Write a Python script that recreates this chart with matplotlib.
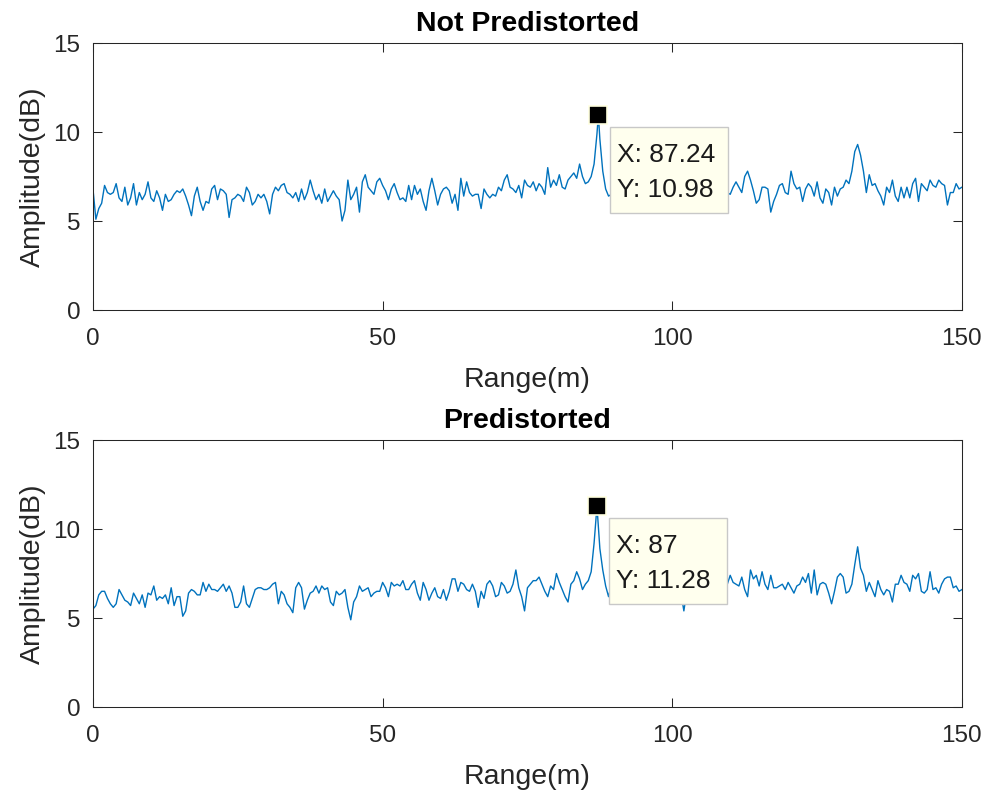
import numpy as np
import matplotlib
matplotlib.use("Agg")
import matplotlib.pyplot as plt
from matplotlib.patches import Rectangle
from matplotlib.transforms import ScaledTranslation

plt.rcParams["font.family"] = ["Liberation Sans", "DejaVu Sans"]

# range grid (m), 0.5 m steps
range_m = np.arange(0, 150.5, 0.5)

# amplitude (dB), 10 samples per 5 m
amp_not_pd = [
    6.8, 5.1, 5.7, 6.0, 7.0, 6.6, 6.5, 6.6, 7.1, 6.3,
    6.1, 6.9, 5.9, 6.3, 7.1, 5.9, 6.6, 6.2, 6.5, 7.2,
    6.3, 6.1, 6.7, 6.3, 5.6, 6.5, 6.1, 6.2, 6.5, 6.7,
    6.6, 6.8, 6.4, 5.9, 5.3, 6.4, 6.9, 6.1, 5.6, 6.1,
    6.0, 6.8, 7.0, 6.2, 6.8, 6.7, 6.5, 5.2, 6.2, 6.3,
    6.5, 6.4, 6.1, 6.9, 6.6, 5.9, 6.1, 6.5, 6.3, 6.5,
    6.1, 5.4, 6.5, 6.9, 6.7, 7.0, 7.1, 6.6, 6.5, 6.3,
    6.6, 6.1, 6.8, 6.2, 6.6, 7.3, 6.7, 6.2, 6.5, 6.0,
    6.8, 6.1, 6.4, 6.7, 6.4, 6.2, 5.0, 5.6, 7.3, 6.2,
    6.5, 6.9, 5.5, 7.2, 7.6, 6.9, 6.7, 6.5, 7.2, 7.4,
    7.0, 6.7, 6.2, 6.8, 7.1, 6.6, 6.2, 6.3, 6.1, 7.0,
    6.2, 7.0, 6.5, 6.8, 6.1, 5.6, 6.7, 7.4, 6.7, 5.9,
    6.5, 6.8, 6.9, 6.7, 6.0, 6.5, 5.6, 7.4, 6.4, 7.2,
    6.6, 6.4, 6.5, 6.5, 5.7, 6.8, 6.5, 6.3, 6.5, 6.4,
    6.9, 6.7, 7.3, 7.6, 6.9, 6.8, 6.6, 7.0, 6.3, 7.3,
    7.0, 6.9, 7.2, 6.7, 7.1, 6.9, 6.5, 8.0, 6.9, 7.3,
    7.0, 7.6, 6.9, 6.8, 7.3, 7.5, 7.7, 7.4, 8.2, 7.5,
    7.1, 7.2, 7.5, 8.2, 9.9, 9.6, 7.8, 6.8, 6.4, 6.5,
    6.9, 6.4, 7.0, 6.6, 6.2, 6.8, 7.1, 6.5, 6.7, 6.3,
    6.9, 7.2, 6.6, 6.4, 6.9, 6.5, 7.0, 6.7, 6.3, 6.8,
    7.1, 6.6, 6.2, 6.9, 6.7, 7.2, 6.5, 6.8, 6.4, 7.0,
    6.9, 6.3, 6.7, 7.1, 6.6, 6.9, 6.4, 6.8, 7.0, 6.6,
    6.5, 6.9, 7.2, 6.9, 6.6, 7.5, 7.8, 7.3, 6.7, 6.0,
    6.2, 6.9, 6.9, 6.8, 5.5, 6.1, 6.5, 7.0, 7.1, 6.6,
    6.5, 7.8, 7.1, 6.8, 6.9, 6.1, 6.8, 7.1, 6.9, 6.4,
    7.2, 6.3, 6.0, 6.8, 6.6, 5.9, 6.9, 6.4, 6.8, 6.9,
    7.3, 7.1, 7.8, 8.9, 9.3, 8.7, 7.8, 6.6, 7.6, 7.0,
    7.1, 6.7, 6.4, 5.9, 6.9, 6.6, 7.3, 6.4, 6.1, 6.9,
    6.3, 6.9, 6.3, 7.1, 7.4, 6.1, 7.1, 6.9, 6.7, 7.3,
    7.0, 6.9, 7.3, 7.1, 7.0, 5.9, 6.6, 6.6, 7.1, 6.8,
    6.9,
]

amp_pd = [
    5.5, 5.7, 6.3, 6.5, 6.5, 6.1, 5.8, 5.6, 5.8, 6.6,
    6.3, 6.0, 5.9, 5.7, 6.4, 6.1, 5.8, 6.3, 5.6, 6.4,
    6.3, 6.8, 6.0, 6.2, 6.1, 6.3, 5.8, 6.7, 5.7, 6.2,
    6.2, 5.1, 5.4, 6.4, 6.6, 6.5, 6.3, 6.3, 7.0, 6.5,
    6.9, 6.6, 6.6, 6.5, 6.7, 6.9, 6.5, 6.8, 6.4, 5.6,
    5.6, 5.9, 6.8, 5.8, 5.6, 6.1, 6.6, 6.7, 6.7, 6.6,
    6.6, 6.7, 6.9, 7.0, 5.8, 6.5, 6.3, 5.8, 5.6, 5.3,
    6.7, 7.0, 6.7, 5.5, 6.0, 6.4, 6.5, 6.8, 6.4, 6.8,
    6.6, 6.7, 5.9, 5.7, 6.5, 6.3, 6.4, 6.6, 5.6, 4.9,
    5.9, 6.2, 6.8, 6.5, 6.6, 6.7, 6.2, 6.4, 6.5, 6.5,
    7.0, 6.7, 6.2, 7.0, 6.8, 6.9, 6.8, 7.1, 6.6, 6.6,
    6.9, 7.1, 6.4, 6.0, 7.0, 6.6, 6.0, 6.4, 6.7, 6.2,
    6.1, 6.6, 6.0, 6.5, 7.2, 7.2, 6.5, 7.0, 6.9, 6.6,
    6.5, 6.9, 6.5, 5.6, 6.5, 6.1, 6.9, 7.1, 6.8, 6.2,
    6.3, 7.0, 6.8, 6.4, 6.5, 6.9, 7.7, 6.7, 6.2, 5.4,
    6.7, 6.9, 7.1, 7.1, 7.3, 6.9, 6.5, 6.2, 6.8, 6.6,
    7.5, 7.0, 6.6, 6.2, 5.9, 6.9, 7.1, 7.6, 7.2, 6.6,
    6.9, 7.1, 7.6, 9.2, 11.28, 8.9, 7.7, 6.8, 6.2, 6.9,
    7.3, 6.8, 7.1, 6.6, 7.2, 7.0, 6.7, 7.3, 6.9, 7.1,
    6.6, 7.0, 7.4, 6.8, 6.9, 7.2, 6.6, 7.0, 7.3, 6.8,
    6.6, 7.1, 6.9, 6.4, 5.4, 6.5, 7.0, 7.2, 6.8, 6.7,
    7.1, 6.9, 7.3, 6.8, 7.0, 7.2, 6.9, 7.1, 7.3, 6.9,
    7.4, 7.0, 6.9, 6.8, 7.3, 6.6, 6.2, 7.7, 7.2, 7.4,
    6.8, 7.6, 6.9, 6.6, 7.4, 6.7, 6.7, 6.8, 6.9, 6.6,
    7.0, 6.7, 6.4, 6.8, 6.9, 7.3, 7.0, 7.5, 6.4, 7.7,
    6.3, 6.9, 7.0, 6.9, 6.4, 5.8, 6.5, 7.3, 7.5, 7.3,
    6.4, 6.5, 6.9, 8.0, 9.0, 7.8, 7.4, 6.5, 7.0, 6.6,
    6.2, 7.1, 6.6, 6.3, 6.6, 6.5, 5.9, 6.9, 6.9, 7.4,
    7.0, 6.9, 6.5, 7.4, 7.2, 7.5, 6.5, 6.4, 6.6, 7.6,
    6.6, 6.7, 6.4, 6.9, 7.2, 7.3, 7.3, 6.7, 6.8, 6.5,
    6.6,
]

# data tips (peak samples)
tip_not_pd = (87.24, 10.98)
tip_pd = (87.0, 11.28)

titles = ["Not Predistorted", "Predistorted"]
line_color = "#0072BD"
ax_color = "#262626"


def add_sample(r, a, tip):
    i = np.searchsorted(r, tip[0])
    if np.isclose(r[min(i, len(r) - 1)], tip[0]):
        return r, a
    return np.insert(r, i, tip[0]), np.insert(np.asarray(a, float), i, tip[1])


def data_tip(ax, tip):
    # MATLAB-style datatip: square marker + cream box, laid out in inches from the point
    ax.plot(tip[0], tip[1], "s", ms=13, mfc="k", mec="#FFFFE0", mew=1.2, zorder=5)
    trans = fig.dpi_scale_trans + ScaledTranslation(tip[0], tip[1], ax.transData)
    ax.add_patch(Rectangle((0.12, -0.98), 1.18, 0.86, transform=trans, fc="#FFFFEE",
                           ec="#C8C8C8", lw=1, zorder=6, clip_on=False))
    for dy, s in [(-0.40, f"X: {tip[0]:g}"), (-0.75, f"Y: {tip[1]:g}")]:
        ax.text(0.19, dy, s, transform=trans, ha="left", va="center", fontsize=19,
                color="#1a1a1a", zorder=7)


fig = plt.figure(figsize=(9.87, 7.98), dpi=100)
ax1 = fig.add_axes([0.0942, 0.6115, 0.8804, 0.3346])
ax2 = fig.add_axes([0.0942, 0.1140, 0.8804, 0.3346])

for ax, amp, tip, title in zip([ax1, ax2], [amp_not_pd, amp_pd],
                               [tip_not_pd, tip_pd], titles):
    r, a = add_sample(range_m, amp, tip)
    ax.plot(r, a, color=line_color, lw=1.0)
    data_tip(ax, tip)
    ax.set_xlim(0, 150)
    ax.set_ylim(0, 15)
    ax.set_xticks([0, 50, 100, 150])
    ax.set_yticks([0, 5, 10, 15])
    ax.tick_params(direction="in", top=True, right=True, length=6.3, width=0.75,
                   colors=ax_color, labelsize=17.5)
    ax.tick_params(axis="x", pad=13)
    ax.tick_params(axis="y", pad=9)
    for s in ax.spines.values():
        s.set_color(ax_color)
        s.set_linewidth(0.75)
    ax.set_xlabel("Range(m)", fontsize=20.5, color=ax_color, labelpad=12)
    ax.set_ylabel("Amplitude(dB)", fontsize=20.5, color=ax_color, labelpad=5)
    ax.set_title(title, fontsize=20.5, fontweight="bold", color="k", pad=9)

fig.savefig("out.png", dpi=100)
